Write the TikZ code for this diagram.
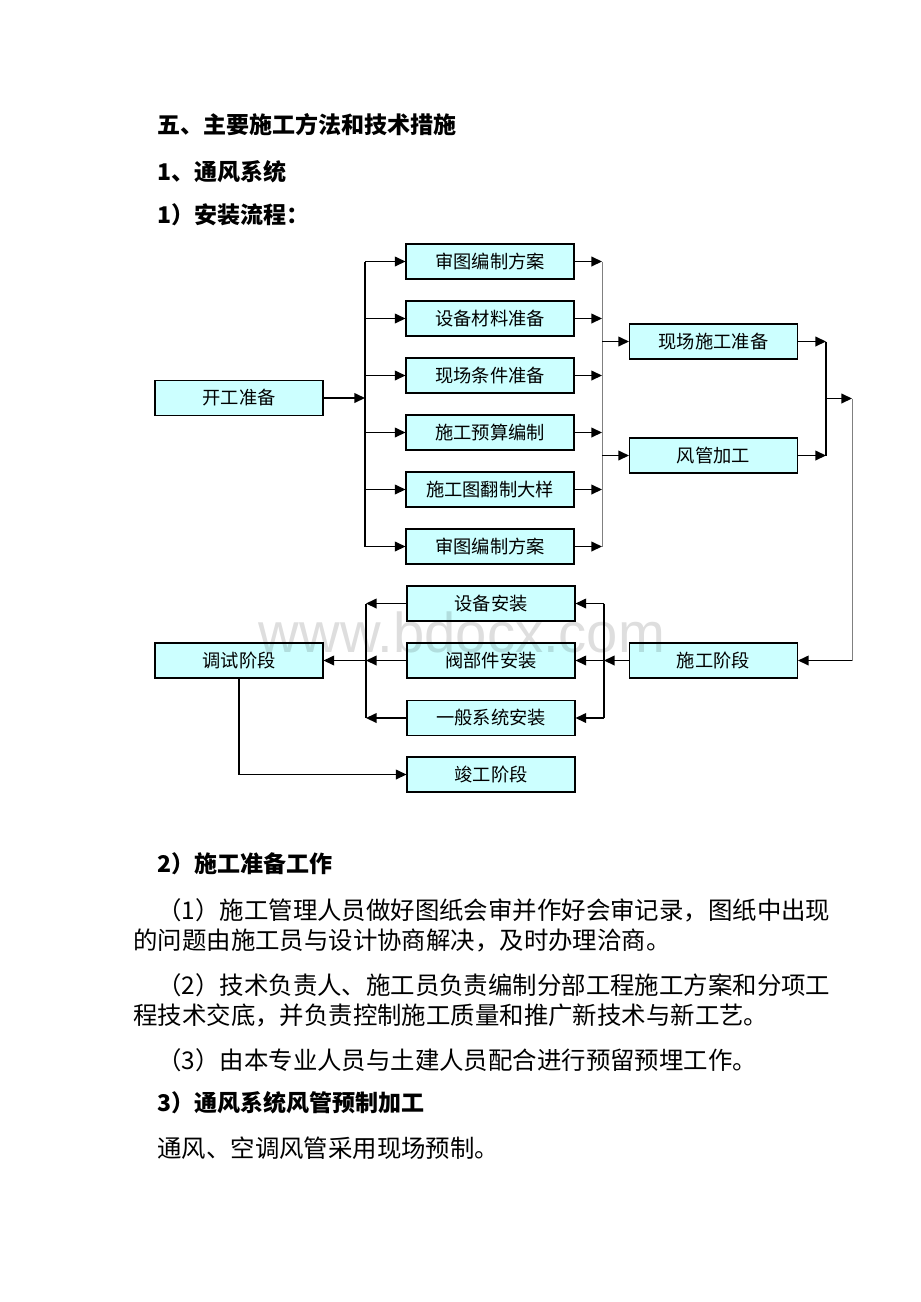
\documentclass[tikz,border=0pt]{standalone}
\usepackage{fontspec}
\setmainfont{Liberation Serif}
\setsansfont{Liberation Sans}
\newfontfamily\cjk{Noto Sans CJK SC}
\usetikzlibrary{arrows.meta}
\definecolor{boxfill}{HTML}{CCFFFF}
\begin{document}
\begin{tikzpicture}[x=0.02cm,y=-0.02cm,
	box/.style={draw,fill=boxfill,line width=0.6pt,minimum width=3.36cm,minimum height=0.7cm,inner sep=0pt,font=\cjk\fontsize{10.4pt}{12pt}\selectfont},
	arr/.style={line width=0.75pt,-{Triangle[length=6pt,width=5.5pt]}},
	bus/.style={line width=0.75pt},
	head/.style={anchor=west,inner sep=0pt,font=\cjk\bfseries\fontsize{13.1pt}{15pt}\selectfont},
	body/.style={anchor=west,inner sep=0pt,font=\cjk\fontsize{13.9pt}{16pt}\selectfont}]
		\useasboundingbox (0,0) rectangle (920,1302);
		
		\node[head] (h1) at (157,125) {五、主要施工方法和技术措施};
		\node[head] (h2) at (157,172) {1、通风系统};
		\node[head] (h3) at (157,215) {1）安装流程：};
		
		\node[box] (start) at (239,398) {开工准备};
		\node[box] (plan1) at (490,261.5) {审图编制方案};
		\node[box] (equip) at (490,318.5) {设备材料准备};
		\node[box] (site) at (490,375.5) {现场条件准备};
		\node[box] (budget) at (490,432.5) {施工预算编制};
		\node[box] (detail) at (490,489.5) {施工图翻制大样};
		\node[box] (plan2) at (490,546.5) {审图编制方案};
		\node[box] (prep) at (713.5,341.5) {现场施工准备};
		\node[box] (duct) at (713.5,455.5) {风管加工};
		
		\node[box] (eqinst) at (491,603.5) {设备安装};
		\node[box] (valve) at (491,660.5) {阀部件安装};
		\node[box] (general) at (491,718) {一般系统安装};
		\node[box] (finish) at (491,774.5) {竣工阶段};
		\node[box] (debug) at (239,660.5) {调试阶段};
		\node[box] (build) at (713.5,660.5) {施工阶段};
		
		\coordinate (ja) at (365,398);
		\coordinate (jb) at (602,398);
		\coordinate (jc) at (826,398.5);
		\coordinate (jd) at (852,398.5);
		\coordinate (je) at (604,660.5);
		\coordinate (jf) at (366,660.5);
		
		\draw[arr] (start.east) -- (ja);
		\draw[bus] (ja |- plan1) -- (ja |- plan2);
		\foreach \n in {plan1,equip,site,budget,detail,plan2} {
			\draw[arr] (ja |- \n) -- (\n.west);
			\draw[arr] (\n.east) -- (jb |- \n);
		}
		\draw[gray,thin] (jb |- plan1) -- (jb |- plan2);
		\draw[arr] (jb |- prep) -- (prep.west);
		\draw[arr] (jb |- duct) -- (duct.west);
		\draw[arr] (prep.east) -- (jc |- prep);
		\draw[arr] (duct.east) -- (jc |- duct);
		\draw[bus] (jc |- prep) -- (jc |- duct);
		\draw[arr] (jc) -- (jd);
		\draw[gray,thin] (jd) -- (jd |- build);
		\draw[arr] (jd |- build) -- (build.east);
		
		\draw[arr] (build.west) -- (je);
		\draw[bus] (je |- eqinst) -- (je |- general);
		\foreach \n in {eqinst,valve,general} {
			\draw[arr] (je |- \n) -- (\n.east);
			\draw[arr] (\n.west) -- (jf |- \n);
		}
		\draw[bus] (jf |- eqinst) -- (jf |- general);
		\draw[arr] (jf) -- (debug.east);
		\draw[arr] (debug.south) |- (finish.west);
		
		\node[text=black,text opacity=0.13,font=\sffamily\fontsize{32pt}{36pt}\selectfont] (wm) at (462,632) {www.bdocx.com};
		
		\node[head] (h4) at (157,864) {2）施工准备工作};
		\node[body] (p1a) at (157,910) {（1）施工管理人员做好图纸会审并作好会审记录，图纸中出现};
		\node[body] (p1b) at (133,940) {的问题由施工员与设计协商解决，及时办理洽商。};
		\node[body] (p2a) at (157,985) {（2）技术负责人、施工员负责编制分部工程施工方案和分项工};
		\node[body] (p2b) at (133,1015) {程技术交底，并负责控制施工质量和推广新技术与新工艺。};
		\node[body] (p3) at (157,1060) {（3）由本专业人员与土建人员配合进行预留预埋工作。};
		\node[head] (h5) at (157,1103) {3）通风系统风管预制加工};
		\node[body] (p4) at (157,1148) {通风、空调风管采用现场预制。};
\end{tikzpicture}
\end{document}
